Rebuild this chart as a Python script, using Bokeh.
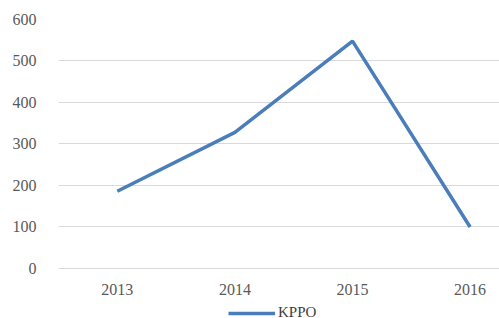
from bokeh.plotting import figure
from bokeh.models import Range1d, FixedTicker, Legend, LegendItem
from bokeh.embed import file_html
from bokeh.resources import INLINE

years = [2013, 2014, 2015, 2016]
kppo = [186, 328, 548, 100]
y_ticks = [0, 100, 200, 300, 400, 500, 600]
series_name = "KPPO"

p = figure(output_backend="svg", toolbar_location=None,
           frame_width=441, frame_height=305,
           x_range=Range1d(2012.5, 2016.25), y_range=Range1d(-135, 600),
           min_border_left=58, min_border_right=0, min_border_top=19,
           min_border_bottom=0)
p.outline_line_color = None
p.background_fill_color = "white"
p.border_fill_color = "white"

r = p.line(years, kppo, line_color="#4a7ebb", line_width=3.5)

font = "Liberation Serif"
for ax in (p.xaxis[0], p.yaxis[0]):
    ax.axis_line_color = None
    ax.major_tick_line_color = None
    ax.minor_tick_line_color = None
    ax.major_label_text_font = font
    ax.major_label_text_font_size = "16px"
    ax.major_label_text_color = "#595959"

p.xaxis[0].ticker = FixedTicker(ticks=years)
p.xaxis[0].fixed_location = 0
p.xaxis[0].major_label_standoff = 10
p.yaxis[0].ticker = FixedTicker(ticks=y_ticks)
p.yaxis[0].major_label_standoff = 16

p.xgrid.grid_line_color = None
p.ygrid.grid_line_color = "#d9d9d9"
p.ygrid.grid_line_width = 1.2
p.ygrid.ticker = FixedTicker(ticks=y_ticks)

legend = Legend(items=[LegendItem(label=series_name, renderers=[r])],
                location=(170, 3), orientation="horizontal",
                border_line_color=None, background_fill_alpha=0,
                label_text_font=font, label_text_font_size="15px",
                label_text_color="#404040", glyph_width=47, glyph_height=12,
                label_height=12, padding=0, margin=0, label_standoff=3,
                spacing=0)
p.add_layout(legend, "center")

open("out.html", "w").write(file_html(p, INLINE))
